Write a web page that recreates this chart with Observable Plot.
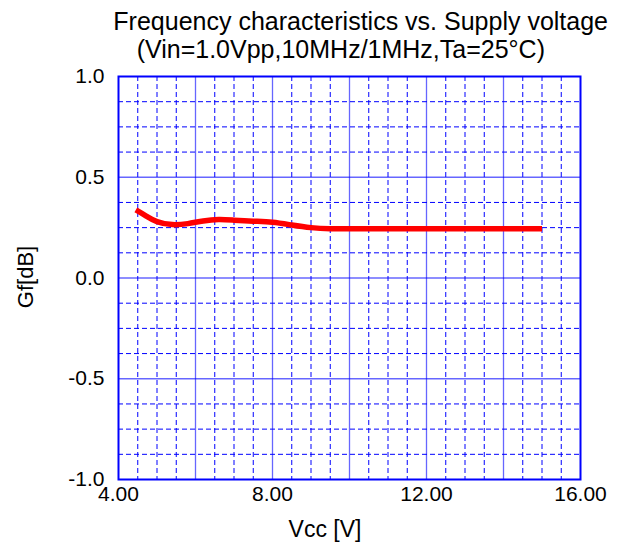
<!DOCTYPE html>
<html>
<head>
<meta charset="utf-8">
<script src="https://cdn.jsdelivr.net/npm/d3@7"></script>
<script src="https://cdn.jsdelivr.net/npm/@observablehq/plot@0.6"></script>
<style>
  html, body { margin: 0; padding: 0; background: #fff; }
  #chart { width: 632px; height: 545px; }
</style>
</head>
<body>
<div id="chart"></div>
<script>
const titleText = "Frequency characteristics vs. Supply voltage";
const subtitleText = "(Vin=1.0Vpp,10MHz/1MHz,Ta=25\u00B0C)";
const xLabel = "Vcc [V]";
const yLabel = "Gf[dB]";
const xTicks = [4, 8, 12, 16];
const yTicks = [-1.0, -0.5, 0.0, 0.5, 1.0];
const xMajorGrid = [6, 8, 10, 12, 14];
const yMajorGrid = [-0.5, 0.0, 0.5];
const vcc = [4.45, 4.7, 5.0, 5.4, 5.8, 6.2, 6.6, 7.0, 7.5, 8.0, 8.5, 9.0, 9.5, 10, 11, 12, 13, 14, 15];
const gf  = [0.338, 0.31, 0.28, 0.265, 0.27, 0.283, 0.29, 0.287, 0.282, 0.277, 0.263, 0.25, 0.245, 0.245, 0.245, 0.245, 0.245, 0.245, 0.245];

const data = vcc.map((v, i) => ({v, g: gf[i]}));
const xMinor = d3.range(4.5, 16, 0.5).filter(v => !xMajorGrid.includes(v));
const yMinor = d3.range(-0.875, 1.0, 0.125).filter(v => !yMajorGrid.some(m => Math.abs(m - v) < 1e-9));

const font = "'Liberation Sans', Arial, sans-serif";
const W = 632, H = 545;
const plot = Plot.plot({
  width: W,
  height: H,
  marginLeft: 118,
  marginRight: 52,
  marginTop: 76,
  marginBottom: 66,
  style: {fontFamily: font, fontSize: "21px", color: "#000", background: "#fff"},
  x: {domain: [4, 16], label: null},
  y: {domain: [-1, 1], label: null},
  marks: [
    Plot.ruleX(xMinor, {stroke: "#0000ff", strokeWidth: 1, strokeDasharray: "5,3"}),
    Plot.ruleY(yMinor, {stroke: "#0000ff", strokeWidth: 1, strokeDasharray: "5,3"}),
    Plot.ruleX(xMajorGrid, {stroke: "#0000ff", strokeOpacity: 0.6, strokeWidth: 1.3}),
    Plot.ruleY(yMajorGrid, {stroke: "#0000ff", strokeOpacity: 0.6, strokeWidth: 1.3}),
    Plot.frame({stroke: "#0000ff", strokeWidth: 2}),
    Plot.line(data, {x: "v", y: "g", stroke: "#ff0000", strokeWidth: 5.5, curve: "natural", strokeLinecap: "butt"}),
    Plot.axisX({ticks: xTicks, tickFormat: d => d.toFixed(2), tickSize: 0, tickPadding: 7, label: null}),
    Plot.axisY({ticks: yTicks, tickFormat: d => d.toFixed(1), tickSize: 0, tickPadding: 14, label: null})
  ]
});

const svg = d3.select(plot);
svg.selectAll('g[aria-label$="tick label"]').attr("font-size", 21).attr("font-family", font);
svg.selectAll('g[aria-label$="tick label"] text').attr("font-size", 21);
svg.append("text").attr("x", 608).attr("y", 30).attr("text-anchor", "end")
  .attr("font-family", font).attr("font-size", 25).attr("fill", "#000").text(titleText);
svg.append("text").attr("x", 545).attr("y", 58).attr("text-anchor", "end")
  .attr("font-family", font).attr("font-size", 25).attr("fill", "#000").text(subtitleText);
svg.append("text").attr("x", 325).attr("y", 537).attr("text-anchor", "middle")
  .attr("font-family", font).attr("font-size", 23).attr("fill", "#000").text(xLabel);
svg.append("text").attr("transform", "translate(33,277) rotate(-90)").attr("text-anchor", "middle")
  .attr("font-family", font).attr("font-size", 22).attr("fill", "#000").text(yLabel);

document.getElementById("chart").appendChild(plot);
</script>
</body>
</html>
